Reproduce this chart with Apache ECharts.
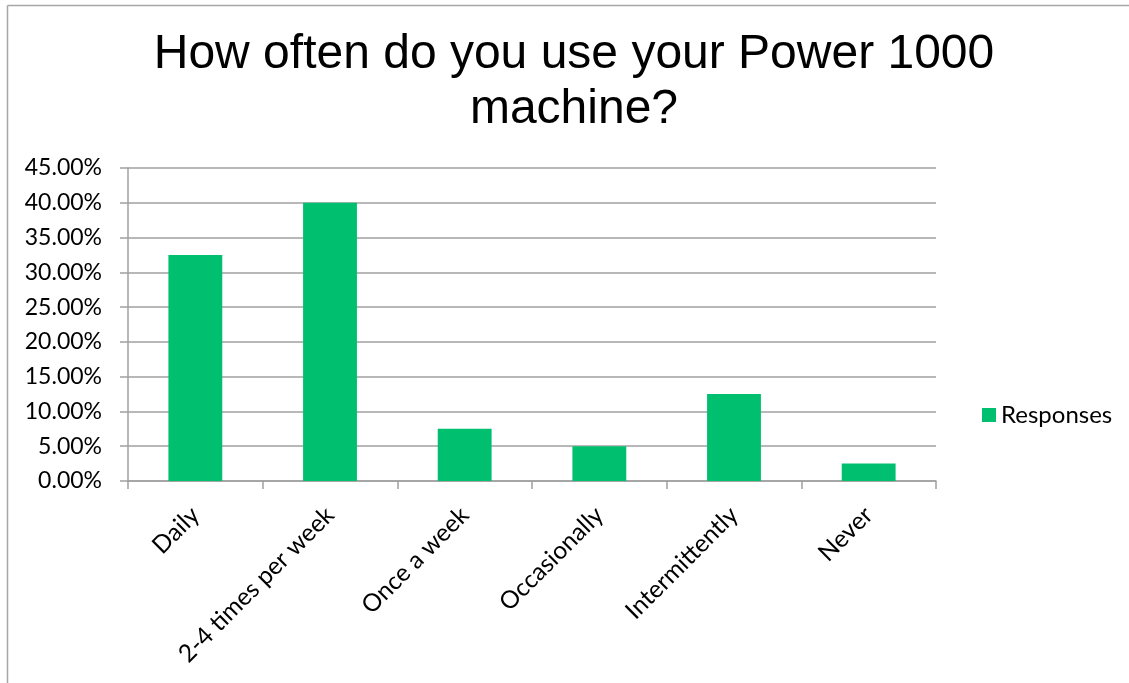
<!DOCTYPE html>
<html>
<head>
<meta charset="utf-8">
<script src="https://cdn.jsdelivr.net/npm/echarts@6/dist/echarts.min.js"></script>
<style>html,body{margin:0;padding:0;background:#fff;}#c{width:1129px;height:683px;}</style>
</head>
<body>
<div id="c"></div>
<script>
const titleText = 'How often do you use your Power 1000\nmachine?';
const categories = ['Daily', '2-4 times per week', 'Once a week', 'Occasionally', 'Intermittently', 'Never'];
const responses = [32.5, 40.0, 7.5, 5.0, 12.5, 2.5];
const seriesName = 'Responses';

const chart = echarts.init(document.getElementById('c'));
chart.setOption({
  backgroundColor: '#fff',
  animation: false,
  title: {
    text: titleText,
    left: 569,
    top: 22,
    textAlign: 'center',
    textStyle: { fontFamily: 'Liberation Sans', fontWeight: 'normal', fontSize: 48, lineHeight: 55, color: '#000' }
  },
  legend: {
    data: [seriesName],
    left: 977,
    top: 398,
    icon: 'rect',
    itemWidth: 14,
    itemHeight: 14,
    itemGap: 8,
    textStyle: { fontFamily: 'Lato', fontSize: 24, color: '#000' }
  },
  grid: { left: 128, right: 193, top: 168, bottom: 202, containLabel: false },
  xAxis: {
    type: 'category',
    data: categories,
    axisLine: { lineStyle: { color: '#a0a0a0', width: 1.5 } },
    axisTick: { show: true, alignWithLabel: false, length: 8, lineStyle: { color: '#a0a0a0', width: 1.5 } },
    axisLabel: { rotate: 45, fontFamily: 'Lato', fontSize: 24.5, color: '#000', margin: 30, interval: 0 }
  },
  yAxis: {
    type: 'value',
    min: 0, max: 45, interval: 5,
    axisLine: { show: true, lineStyle: { color: '#a0a0a0', width: 1.5 } },
    axisTick: { show: true, length: 8, lineStyle: { color: '#a0a0a0', width: 1.5 } },
    splitLine: { lineStyle: { color: '#a0a0a0', width: 1.5 } },
    axisLabel: { fontFamily: 'Lato', fontSize: 23, color: '#000', margin: 26, formatter: v => v.toFixed(2) + '%' }
  },
  series: [{
    name: seriesName,
    type: 'bar',
    data: responses,
    barCategoryGap: '60%',
    itemStyle: { color: '#00c070' }
  }],
  graphic: [
    { type: 'line', shape: { x1: 7.5, y1: 5.5, x2: 1129, y2: 5.5 }, style: { stroke: '#a6a6a6', lineWidth: 1.5 }, silent: true },
    { type: 'line', shape: { x1: 7.5, y1: 5.5, x2: 7.5, y2: 683 }, style: { stroke: '#a6a6a6', lineWidth: 1.5 }, silent: true }
  ]
});
</script>
</body>
</html>
